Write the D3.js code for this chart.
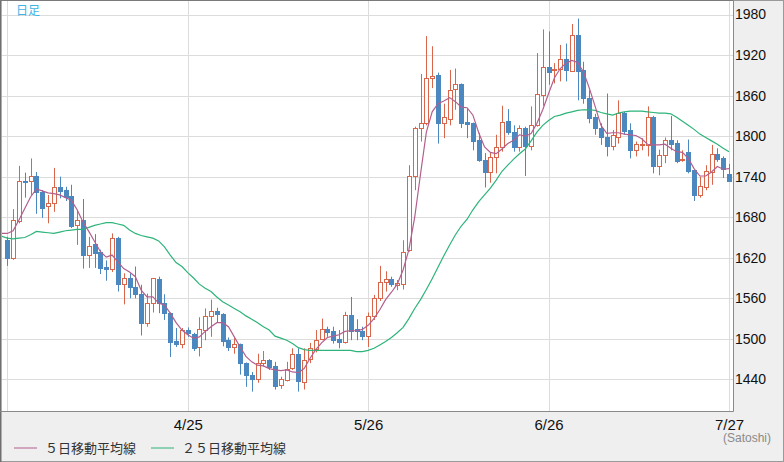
<!DOCTYPE html>
<html>
<head>
<meta charset="utf-8">
<script src="https://cdn.jsdelivr.net/npm/d3@7"></script>
<style>
  body { margin: 0; background: #fff; }
  svg { display: block; }
  text { font-family: "Liberation Sans", Arial, sans-serif; }
  .jp { font-family: "Noto Sans CJK JP", sans-serif; }
</style>
</head>
<body>
<div id="chart"></div>
<script>
// daily candles, one per calendar day starting 3/25
const firstDay = "2018-03-25"
const open  = [1647,1620,1674,1734,1733,1741,1718,1696,1701,1725,1720,1711,1668,1676,1625,1640,1629,1606,1603,1649,
               1581,1590,1577,1567,1524,1553,1588,1553,1539,1497,1492,1513,1507,1487,1514,1534,1541,1537,1498,1488,
               1492,1464,1447,1442,1465,1469,1460,1431,1440,1456,1477,1437,1469,1486,1499,1515,1512,1500,1496,1536,
               1515,1512,1504,1534,1561,1584,1588,1580,1582,1632,1741,1812,1819,1886,1890,1819,1826,1869,1877,1821,
               1819,1794,1765,1747,1769,1784,1822,1806,1784,1812,1785,1816,1861,1902,1897,1899,1914,1897,1950,1898,
               1857,1828,1812,1799,1786,1799,1834,1809,1779,1787,1787,1829,1756,1772,1794,1790,1764,1777,1750,1713,
               1725,1747,1773,1767,1744]
const high  = [1651,1692,1756,1746,1767,1747,1720,1713,1753,1740,1725,1728,1691,1707,1651,1655,1632,1616,1656,1651,
               1597,1597,1607,1580,1567,1590,1592,1566,1539,1516,1516,1517,1509,1532,1545,1558,1546,1538,1502,1501,
               1493,1465,1451,1478,1482,1470,1466,1444,1466,1486,1486,1486,1494,1513,1530,1518,1518,1513,1540,1562,
               1529,1518,1539,1565,1608,1600,1592,1587,1646,1757,1814,1892,1948,1933,1894,1848,1898,1900,1878,1841,
               1820,1805,1775,1775,1802,1845,1840,1816,1816,1814,1844,1923,1958,1955,1908,1935,1937,1966,1974,1910,
               1868,1833,1819,1863,1809,1853,1836,1819,1792,1797,1844,1830,1780,1798,1830,1794,1779,1795,1750,1740,
               1757,1787,1782,1770,1759]
const low   = [1608,1617,1671,1709,1713,1685,1679,1671,1688,1708,1704,1664,1639,1604,1605,1605,1596,1586,1599,1570,
               1551,1560,1560,1505,1518,1539,1538,1528,1473,1488,1486,1503,1482,1474,1498,1503,1524,1489,1482,1478,
               1447,1429,1422,1435,1459,1454,1425,1426,1437,1454,1422,1425,1464,1480,1498,1503,1493,1486,1493,1498,
               1498,1498,1488,1528,1556,1570,1577,1572,1573,1629,1720,1792,1816,1871,1789,1797,1816,1839,1812,1797,
               1779,1762,1724,1731,1745,1777,1802,1777,1777,1741,1779,1814,1845,1876,1878,1881,1881,1895,1853,1848,
               1819,1802,1787,1770,1779,1789,1802,1767,1770,1779,1770,1745,1742,1760,1779,1760,1762,1745,1704,1709,
               1720,1728,1762,1738,1733]
const close = [1620,1676,1733,1732,1741,1717,1694,1701,1724,1719,1710,1667,1676,1624,1638,1627,1605,1603,1649,1581,
               1590,1577,1566,1524,1553,1590,1553,1538,1496,1492,1513,1508,1487,1514,1534,1541,1536,1497,1488,1492,
               1464,1446,1441,1465,1469,1459,1431,1440,1456,1477,1437,1469,1486,1499,1514,1511,1499,1496,1536,1512,
               1512,1504,1534,1561,1584,1588,1580,1583,1629,1741,1812,1819,1886,1889,1819,1828,1869,1877,1820,1818,
               1793,1764,1747,1769,1784,1821,1805,1784,1812,1785,1816,1862,1902,1895,1899,1914,1897,1950,1897,1857,
               1827,1812,1798,1786,1802,1834,1808,1779,1788,1789,1828,1756,1772,1794,1788,1764,1766,1749,1713,1726,
               1748,1773,1766,1750,1734]

// moving averages, starting one day before the first candle (3/24)
const ma5  = [1656,
              1656,1660,1676,1693,1710,1722,1719,1716,1715,1713,1709,1705,1691,1673,1659,1644,1629,1621,1624,1614,
              1604,1599,1592,1572,1562,1562,1553,1550,1538,1524,1513,1506,1501,1503,1511,1518,1524,1524,1518,1503,
              1488,1474,1466,1461,1460,1456,1454,1453,1454,1451,1450,1456,1471,1484,1494,1502,1504,1506,1511,1512,
              1512,1514,1520,1530,1543,1558,1569,1581,1602,1632,1680,1744,1806,1836,1848,1852,1857,1851,1843,1842,
              1831,1805,1784,1776,1774,1781,1789,1794,1802,1800,1804,1819,1839,1863,1886,1900,1908,1912,1909,1895,
              1871,1844,1816,1804,1805,1805,1803,1802,1801,1796,1788,1787,1787,1788,1782,1777,1776,1767,1752,1741,
              1741,1747,1755,1751,1752]
const ma25 = [1652,
              1649,1648,1649,1650,1654,1659,1658,1657,1656,1658,1660,1661,1662,1662,1665,1668,1670,1672,1672,1670,
              1668,1661,1656,1653,1651,1649,1645,1636,1624,1613,1607,1598,1590,1581,1575,1570,1562,1555,1550,1545,
              1540,1534,1529,1524,1518,1513,1504,1501,1498,1493,1487,1484,1483,1483,1483,1483,1483,1483,1483,1483,
              1481,1481,1483,1486,1491,1496,1502,1509,1517,1530,1545,1558,1573,1589,1606,1623,1639,1654,1667,1677,
              1691,1703,1713,1723,1735,1748,1757,1766,1774,1781,1793,1806,1816,1823,1829,1831,1834,1836,1838,1839,
              1839,1838,1835,1833,1831,1834,1836,1837,1837,1837,1836,1835,1834,1834,1833,1828,1822,1816,1810,1803,
              1798,1793,1788,1782,1777]

const priceTicks = [1440,1500,1560,1620,1680,1740,1800,1860,1920,1980]
const dateTicks  = ["2018-03-25","2018-04-25","2018-05-26","2018-06-26","2018-07-27"]
const dateLabels = ["", "4/25", "5/26", "6/26", "7/27"]
const legendNames = ["５日移動平均線", "２５日移動平均線"]

const upColor = "#d9664a", downColor = "#4a88bf"
const ma5Color = "#b35f8e", ma25Color = "#2db47a"

const width = 784, height = 462
const plot = {left: 2, top: 1, right: 733, bottom: 411}

const parse = d3.utcParse("%Y-%m-%d")
const day0 = parse(firstDay)
const candles = open.map((o, i) => ({
    date: d3.utcDay.offset(day0, i), open: o, high: high[i], low: low[i], close: close[i]
}))
const maDates = ma5.map((v, i) => d3.utcDay.offset(day0, i - 1))

const x = d3.scaleUtc()
    .domain([parse(dateTicks[0]), parse(dateTicks[dateTicks.length - 1])])
    .range([7.3, 729])
const y = d3.scaleLinear()
    .domain([1440, 1980])
    .range([379.4, 14.5])

const svg = d3.select("#chart").append("svg")
    .attr("width", width)
    .attr("height", height)

// background & frame
svg.append("rect")
    .attr("x", 0.5).attr("y", 0.5)
    .attr("width", width - 1).attr("height", height - 1)
    .attr("fill", "#efefef").attr("stroke", "#9a9a9a")
svg.append("rect")
    .attr("x", plot.left).attr("y", plot.top)
    .attr("width", plot.right - plot.left).attr("height", plot.bottom - plot.top)
    .attr("fill", "#fff")
svg.append("line")
    .attr("x1", 0.5).attr("x2", 0.5).attr("y1", 0).attr("y2", height)
    .attr("stroke", "#6f6f6f").attr("stroke-width", 2)
svg.append("line")
    .attr("x1", 0).attr("x2", plot.right).attr("y1", 0.5).attr("y2", 0.5)
    .attr("stroke", "#7a7a7a")

svg.append("defs").append("clipPath").attr("id", "clip")
    .append("rect")
    .attr("x", plot.left).attr("y", plot.top)
    .attr("width", plot.right - plot.left).attr("height", plot.bottom - plot.top)

// grid
const grid = svg.append("g").attr("stroke", "#dcdcdc").attr("stroke-width", 1)
grid.selectAll(".hg").data(priceTicks).join("line")
    .attr("x1", plot.left).attr("x2", plot.right)
    .attr("y1", d => Math.round(y(d)) + 0.5).attr("y2", d => Math.round(y(d)) + 0.5)
grid.selectAll(".vg").data(dateTicks).join("line")
    .attr("y1", plot.top).attr("y2", plot.bottom)
    .attr("x1", d => Math.round(x(parse(d))) + 0.5).attr("x2", d => Math.round(x(parse(d))) + 0.5)

// plot border (right / bottom)
svg.append("path")
    .attr("d", `M${plot.right + 0.5},0 V${plot.bottom + 0.5} H0`)
    .attr("fill", "none").attr("stroke", "#8a8a8a")

const body = svg.append("g").attr("clip-path", "url(#clip)")

// candles
const cx = d => Math.round(x(d.date))
const cg = body.selectAll(".candle").data(candles).join("g")
cg.append("line")
    .attr("x1", d => cx(d) + 0.5).attr("x2", d => cx(d) + 0.5)
    .attr("y1", d => y(d.high)).attr("y2", d => y(d.low))
    .attr("stroke", d => d.close >= d.open ? upColor : downColor)
cg.append("rect")
    .attr("x", d => cx(d) - 1.5)
    .attr("width", 4)
    .attr("y", d => Math.round(y(Math.max(d.open, d.close))) + 0.5)
    .attr("height", d => Math.max(1, Math.round(Math.abs(y(d.open) - y(d.close)))))
    .attr("fill", d => d.close >= d.open ? "#fff" : downColor)
    .attr("stroke", d => d.close >= d.open ? upColor : downColor)

// moving averages
const line = d3.line()
    .x((d, i) => x(maDates[i]))
    .y(d => y(d))
body.append("path")
    .datum(ma25)
    .attr("fill", "none").attr("stroke", ma25Color).attr("stroke-width", 1.2)
    .attr("d", line)
body.append("path")
    .datum(ma5)
    .attr("fill", "none").attr("stroke", ma5Color).attr("stroke-width", 1.2)
    .attr("d", line)

// price axis (right)
const yAxis = d3.axisRight(y).tickValues(priceTicks).tickFormat(d3.format("d")).tickSize(0).tickPadding(0)
svg.append("g")
    .attr("transform", `translate(${plot.right + 2},0)`)
    .call(yAxis)
    .call(g => g.select(".domain").remove())
    .call(g => g.selectAll("text")
        .attr("font-family", "Liberation Sans, Arial, sans-serif")
        .attr("font-size", 14).attr("fill", "#111"))

// date axis (bottom)
const xAxis = d3.axisBottom(x)
    .tickValues(dateTicks.map(parse))
    .tickFormat((d, i) => dateLabels[i])
    .tickSize(0).tickPadding(0)
svg.append("g")
    .attr("transform", `translate(0,${plot.bottom + 8})`)
    .call(xAxis)
    .call(g => g.select(".domain").remove())
    .call(g => g.selectAll("text")
        .attr("font-family", "Liberation Sans, Arial, sans-serif")
        .attr("font-size", 15).attr("fill", "#111"))

svg.append("text")
    .attr("x", 771).attr("y", 442)
    .attr("text-anchor", "end")
    .attr("font-size", 12).attr("fill", "#8a8a8a")
    .text("(Satoshi)")

svg.append("text")
    .attr("class", "jp")
    .attr("x", 16).attr("y", 15)
    .attr("font-size", 12).attr("fill", "#3fb2e6")
    .text("日足")

// legend
const legend = svg.append("g").attr("transform", "translate(0,447.5)")
const items = [{name: legendNames[0], color: ma5Color, x: 14}, {name: legendNames[1], color: ma25Color, x: 151}]
items.forEach(it => {
    legend.append("line")
        .attr("x1", it.x).attr("x2", it.x + 23).attr("y1", 0.5).attr("y2", 0.5)
        .attr("stroke", it.color)
    legend.append("text")
        .attr("class", "jp")
        .attr("x", it.x + 31).attr("y", 5)
        .attr("font-size", 13).attr("fill", "#333")
        .text(it.name)
})
</script>
</body>
</html>
